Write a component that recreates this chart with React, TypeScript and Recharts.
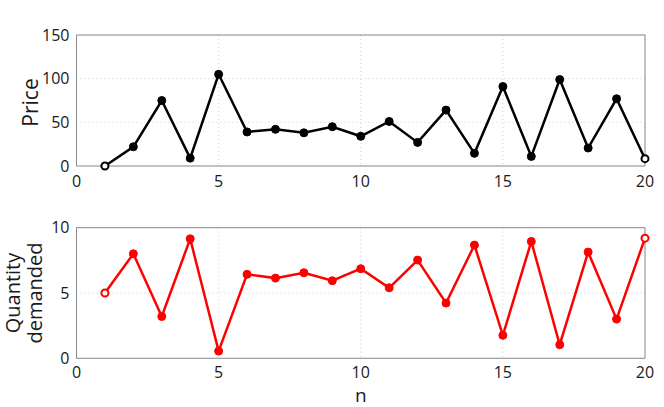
import React from "react";
import {
  LineChart,
  Line,
  XAxis,
  YAxis,
  CartesianGrid,
  ReferenceArea,
} from "recharts";

const nValues = [1, 2, 3, 4, 5, 6, 7, 8, 9, 10, 11, 12, 13, 14, 15, 16, 17, 18, 19, 20];
const priceValues = [0, 22, 75, 9, 105, 39, 42, 38, 45, 34, 51, 27, 64, 14.5, 91, 11, 99, 20.6, 77, 8.4];
const quantityValues = [5.0, 8.0, 3.2, 9.15, 0.55, 6.43, 6.14, 6.55, 5.94, 6.86, 5.4, 7.52, 4.23, 8.67, 1.76, 8.95, 1.04, 8.13, 3.0, 9.2];

const xTicks = [0, 5, 10, 15, 20];
const priceTicks = [0, 50, 100, 150];
const quantityTicks = [0, 5, 10];

const FONT = "'Open Sans', 'Liberation Sans', sans-serif";
const BOX = "#8a8a8a";
const TEXT = "#1a1a1a";

const data = nValues.map((n, i) => ({
  n,
  price: priceValues[i],
  quantity: quantityValues[i],
}));

// first and last markers are hollow, the rest filled
const makeDot = (color: string) => (props: any) => {
  const { cx, cy, index } = props;
  const open = index === 0 || index === data.length - 1;
  return (
    <circle
      key={`dot-${index}`}
      cx={cx}
      cy={cy}
      r={open ? 3.5 : 4}
      fill={open ? "#fff" : color}
      stroke={color}
      strokeWidth={open ? 2 : 1}
    />
  );
};

const tickStyle = { fontSize: 16, fill: TEXT, fontFamily: FONT };

const PriceLabel = (props: any) => {
  const { viewBox } = props;
  const cy = viewBox.y + viewBox.height / 2 + 2;
  return (
    <text
      x={30}
      y={cy}
      transform={`rotate(-90, 30, ${cy})`}
      textAnchor="middle"
      dominantBaseline="central"
      fontSize={21}
      fill={TEXT}
      fontFamily={FONT}
    >
      Price
    </text>
  );
};

const QuantityLabel = (props: any) => {
  const { viewBox } = props;
  const cy = viewBox.y + viewBox.height / 2;
  return (
    <g transform={`rotate(-90, 23, ${cy})`}>
      <text x={23} y={cy - 11} textAnchor="middle" dominantBaseline="central" fontSize={20} fill={TEXT} fontFamily={FONT}>
        Quantity
      </text>
      <text x={23} y={cy + 11} textAnchor="middle" dominantBaseline="central" fontSize={20} fill={TEXT} fontFamily={FONT}>
        demanded
      </text>
    </g>
  );
};

const NLabel = (props: any) => {
  const { viewBox } = props;
  return (
    <text
      x={viewBox.x + viewBox.width / 2}
      y={viewBox.y + 36.5}
      textAnchor="middle"
      dominantBaseline="central"
      fontSize={19}
      fill={TEXT}
      fontFamily={FONT}
    >
      n
    </text>
  );
};

export default function App() {
  return (
    <div
      style={{
        position: "absolute",
        left: 0,
        top: 0,
        width: 664,
        height: 407,
        background: "#fff",
      }}
    >
      {/* Price panel */}
      <LineChart
        width={664}
        height={200}
        data={data}
        margin={{ top: 35, right: 19, left: 0, bottom: 4 }}
      >
        <CartesianGrid stroke="#cfcfcf" strokeDasharray="1 3" />
        <XAxis
          dataKey="n"
          type="number"
          domain={[0, 20]}
          ticks={xTicks}
          height={30}
          axisLine={false}
          tickLine={false}
          tickMargin={4}
          tick={tickStyle}
        />
        <YAxis
          type="number"
          domain={[0, 150]}
          ticks={priceTicks}
          width={76.5}
          axisLine={false}
          tickLine={false}
          tickMargin={1}
          tick={tickStyle}
          label={<PriceLabel />}
        />
        <ReferenceArea x1={0} x2={20} y1={0} y2={150} fill="none" stroke={BOX} strokeWidth={1} ifOverflow="visible" />
        <Line
          type="linear"
          dataKey="price"
          stroke="#000"
          strokeWidth={2.5}
          dot={makeDot("#000")}
          isAnimationActive={false}
        />
      </LineChart>

      {/* Quantity panel */}
      <LineChart
        width={664}
        height={207}
        data={data}
        margin={{ top: 27.7, right: 19, left: 0, bottom: 0 }}
      >
        <CartesianGrid stroke="#cfcfcf" strokeDasharray="1 3" />
        <XAxis
          dataKey="n"
          type="number"
          domain={[0, 20]}
          ticks={xTicks}
          height={48.7}
          axisLine={false}
          tickLine={false}
          tickMargin={2}
          tick={tickStyle}
          label={<NLabel />}
        />
        <YAxis
          type="number"
          domain={[0, 10]}
          ticks={quantityTicks}
          width={76.5}
          axisLine={false}
          tickLine={false}
          tickMargin={1}
          tick={tickStyle}
          label={<QuantityLabel />}
        />
        <ReferenceArea x1={0} x2={20} y1={0} y2={10} fill="none" stroke={BOX} strokeWidth={1} ifOverflow="visible" />
        <Line
          type="linear"
          dataKey="quantity"
          stroke="#ff0000"
          strokeWidth={2.5}
          dot={makeDot("#ff0000")}
          isAnimationActive={false}
        />
      </LineChart>
    </div>
  );
}
